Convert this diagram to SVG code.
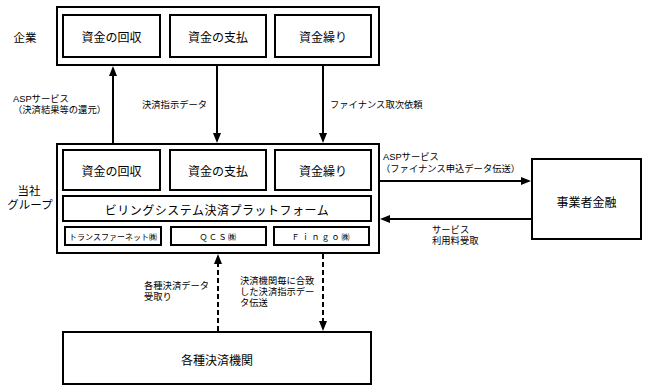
<svg xmlns="http://www.w3.org/2000/svg" width="648" height="392" viewBox="0 0 648 392">
<defs>
<style>
text{font-family:"Noto Sans CJK JP","Noto Sans CJK SC",sans-serif;fill:#000;}
.box{fill:#fff;stroke:#000;stroke-width:2;}
.t12{font-size:12px;text-anchor:middle;dominant-baseline:central;}
.t8{font-size:8px;text-anchor:middle;dominant-baseline:central;}
.lbl{font-family:"Liberation Sans","Noto Sans CJK JP",sans-serif;font-size:9.3px;dominant-baseline:central;}
.side{font-family:"Liberation Sans","Noto Sans CJK JP",sans-serif;font-size:11.5px;text-anchor:middle;dominant-baseline:central;}
.ln{stroke:#000;stroke-width:2;fill:none;}
.dash{stroke-dasharray:5,3;}
</style>
<marker id="ah" viewBox="0 0 10 8" refX="6" refY="4" markerWidth="10" markerHeight="8" markerUnits="userSpaceOnUse" orient="auto">
<path d="M0,0 L10,4 L0,8 z" fill="#000"/>
</marker>
</defs>
<rect width="648" height="392" fill="#fff"/>

<g id="kigyo">
<rect class="box" x="57" y="7" width="322" height="58"/>
<text class="side" x="25" y="38">企業</text>
<g id="k1"><rect class="box" x="63" y="15" width="97" height="42"/><text class="t12" x="111.5" y="36">資金の回収</text></g>
<g id="k2"><rect class="box" x="170" y="15" width="96" height="42"/><text class="t12" x="218" y="36">資金の支払</text></g>
<g id="k3"><rect class="box" x="275" y="15" width="96" height="42"/><text class="t12" x="323" y="36">資金繰り</text></g>
</g>

<g id="group">
<rect class="box" x="57" y="144" width="322" height="109"/>
<text class="side" x="29" y="191">当社</text>
<text class="side" x="30" y="205">グループ</text>
<g id="g1"><rect class="box" x="63" y="150" width="97" height="40"/><text class="t12" x="111.5" y="170">資金の回収</text></g>
<g id="g2"><rect class="box" x="170" y="150" width="96" height="40"/><text class="t12" x="218" y="170">資金の支払</text></g>
<g id="g3"><rect class="box" x="275" y="150" width="96" height="40"/><text class="t12" x="323" y="170">資金繰り</text></g>
<g id="billing"><rect class="box" x="63" y="196" width="308" height="25"/><text class="t12" x="217" y="209" style="letter-spacing:0.5px">ビリングシステム決済プラットフォーム</text></g>
<g id="s1"><rect class="box" x="65" y="227" width="96" height="18"/><text class="t8" x="113" y="236">トランスファーネット㈱</text></g>
<g id="s2"><rect class="box" x="171" y="227" width="95" height="18"/><text class="t8" x="218.5" y="236" style="letter-spacing:1.5px">ＱＣＳ㈱</text></g>
<g id="s3"><rect class="box" x="274" y="227" width="95" height="18"/><text class="t8" x="321.5" y="236" style="letter-spacing:2px">Ｆｉｎｇｏ㈱</text></g>
</g>

<g id="finance">
<rect class="box" x="532" y="159" width="109" height="80"/>
<text class="t12" x="586.5" y="201">事業者金融</text>
</g>

<g id="kikan">
<rect class="box" x="63" y="332" width="308" height="52"/>
<text class="t12" x="217" y="359">各種決済機関</text>
</g>

<g id="connectors">
<line class="ln" x1="113" y1="143" x2="113" y2="70" marker-end="url(#ah)"/>
<line class="ln" x1="217" y1="66" x2="217" y2="139" marker-end="url(#ah)"/>
<line class="ln" x1="323" y1="66" x2="323" y2="139" marker-end="url(#ah)"/>
<line class="ln" x1="380" y1="181" x2="527" y2="181" marker-end="url(#ah)"/>
<line class="ln" x1="531" y1="219" x2="384" y2="219" marker-end="url(#ah)"/>
<line class="ln dash" x1="218" y1="331" x2="218" y2="258" marker-end="url(#ah)"/>
<line class="ln dash" x1="323" y1="254" x2="323" y2="327" marker-end="url(#ah)"/>
<text class="lbl" x="13" y="99">ASPサービス</text>
<text class="lbl" x="13" y="110">（決済結果等の還元）</text>
<text class="lbl" x="142" y="105">決済指示データ</text>
<text class="lbl" x="330" y="105">ファイナンス取次依頼</text>
<text class="lbl" x="383" y="157">ASPサービス</text>
<text class="lbl" x="381" y="169">（ファイナンス申込データ伝送）</text>
<text class="lbl" x="432" y="230">サービス</text>
<text class="lbl" x="432" y="241">利用料受取</text>
<text class="lbl" x="144" y="286">各種決済データ</text>
<text class="lbl" x="144" y="297">受取り</text>
<text class="lbl" x="240" y="281">決済機関毎に合致</text>
<text class="lbl" x="240" y="292">した決済指示デー</text>
<text class="lbl" x="240" y="303">タ伝送</text>
</g>
</svg>
